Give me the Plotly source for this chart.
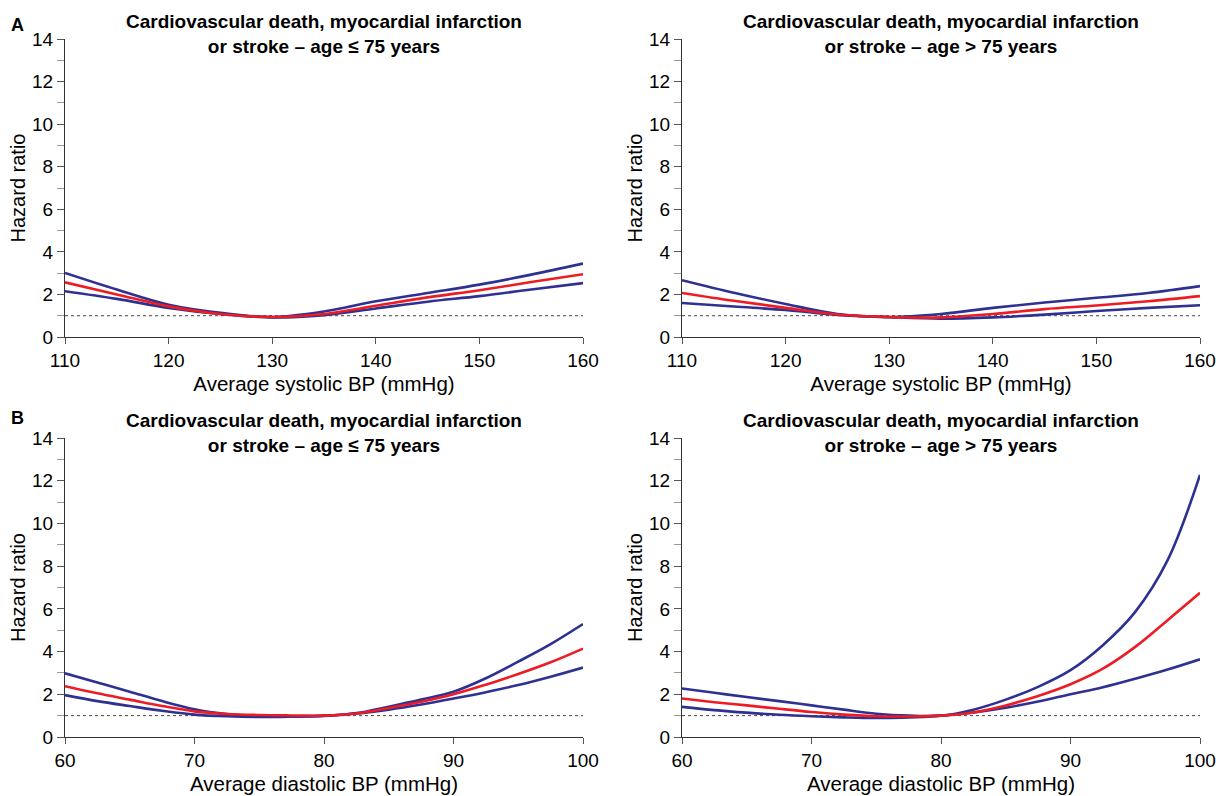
import plotly.graph_objects as go

# ---------------- data ----------------
sys_x = [110, 115, 120, 125, 130, 135, 140, 145, 150, 155, 160]

# Panel A left: systolic, age <= 75
a1_hr    = [2.57, 2.00, 1.44, 1.08, 0.94, 1.08, 1.47, 1.86, 2.20, 2.58, 2.95]
a1_upper = [3.01, 2.23, 1.52, 1.14, 0.94, 1.20, 1.68, 2.07, 2.46, 2.93, 3.45]
a1_lower = [2.15, 1.79, 1.37, 1.08, 0.92, 1.03, 1.34, 1.66, 1.92, 2.23, 2.53]

# Panel A right: systolic, age > 75
a2_hr    = [2.07, 1.70, 1.37, 1.06, 0.94, 0.92, 1.08, 1.31, 1.48, 1.68, 1.92]
a2_upper = [2.67, 2.08, 1.55, 1.08, 0.94, 1.08, 1.37, 1.62, 1.84, 2.07, 2.39]
a2_lower = [1.60, 1.43, 1.27, 1.04, 0.93, 0.86, 0.92, 1.05, 1.22, 1.37, 1.49]

dia_x = [60, 62.5, 65, 67.5, 70, 72.5, 75, 77.5, 80, 82.5, 85, 87.5, 90, 92.5, 95, 97.5, 100]

# Panel B left: diastolic, age <= 75
b1_hr    = [2.38, 2.05, 1.75, 1.45, 1.20, 1.08, 1.03, 1.01, 1.00, 1.10, 1.36, 1.65, 2.00, 2.45, 2.95, 3.50, 4.14]
b1_upper = [2.98, 2.55, 2.12, 1.68, 1.30, 1.07, 0.96, 0.96, 0.98, 1.12, 1.42, 1.75, 2.12, 2.75, 3.53, 4.35, 5.29]
b1_lower = [1.96, 1.68, 1.45, 1.23, 1.05, 0.97, 0.94, 0.96, 1.00, 1.10, 1.28, 1.52, 1.80, 2.10, 2.43, 2.82, 3.25]

# Panel B right: diastolic, age > 75
b2_hr    = [1.80, 1.63, 1.48, 1.32, 1.17, 1.05, 0.97, 0.96, 1.00, 1.15, 1.48, 1.92, 2.47, 3.20, 4.22, 5.47, 6.75]
b2_upper = [2.27, 2.07, 1.87, 1.68, 1.48, 1.28, 1.09, 1.00, 1.00, 1.28, 1.75, 2.35, 3.13, 4.30, 5.86, 8.28, 12.27]
b2_lower = [1.41, 1.26, 1.14, 1.04, 0.97, 0.92, 0.89, 0.91, 1.00, 1.15, 1.37, 1.66, 2.00, 2.33, 2.73, 3.16, 3.64]

y_ticks = [0, 2, 4, 6, 8, 10, 12, 14]
sys_ticks = [110, 120, 130, 140, 150, 160]
dia_ticks = [60, 70, 80, 90, 100]

title_le = "Cardiovascular death, myocardial infarction<br>or stroke \u2013 age \u2264 75 years"
title_gt = "Cardiovascular death, myocardial infarction<br>or stroke \u2013 age > 75 years"

# ---------------- figure ----------------
W, H = 1224, 796
BLUE = "#2e3192"
RED = "#ed1c24"
FONT = "Liberation Sans, Arial, sans-serif"

def px_x(p):
    return p / W

def px_y(p):
    return 1 - p / H

panels = [
    dict(x=sys_x, hr=a1_hr, up=a1_upper, lo=a1_lower, rng=[110, 160], ticks=sys_ticks,
         xt="Average systolic BP (mmHg)", title=title_le, xd=[65, 583], yd=[337, 39]),
    dict(x=sys_x, hr=a2_hr, up=a2_upper, lo=a2_lower, rng=[110, 160], ticks=sys_ticks,
         xt="Average systolic BP (mmHg)", title=title_gt, xd=[682, 1200], yd=[337, 39]),
    dict(x=dia_x, hr=b1_hr, up=b1_upper, lo=b1_lower, rng=[60, 100], ticks=dia_ticks,
         xt="Average diastolic BP (mmHg)", title=title_le, xd=[65, 583], yd=[737, 438]),
    dict(x=dia_x, hr=b2_hr, up=b2_upper, lo=b2_lower, rng=[60, 100], ticks=dia_ticks,
         xt="Average diastolic BP (mmHg)", title=title_gt, xd=[682, 1200], yd=[737, 438]),
]

fig = go.Figure()
layout = dict(
    width=W, height=H, margin=dict(l=0, r=0, t=0, b=0, autoexpand=False),
    paper_bgcolor="white", plot_bgcolor="white", showlegend=False,
    font=dict(family=FONT, color="black", size=19),
)
annotations = []

for i, p in enumerate(panels, start=1):
    xa = "x" if i == 1 else f"x{i}"
    ya = "y" if i == 1 else f"y{i}"
    xkey = "xaxis" if i == 1 else f"xaxis{i}"
    ykey = "yaxis" if i == 1 else f"yaxis{i}"

    # reference line at HR = 1
    fig.add_trace(go.Scatter(x=p["rng"], y=[1, 1], mode="lines", xaxis=xa, yaxis=ya,
                             line=dict(color="#444444", width=1, dash="dot"),
                             hoverinfo="skip"))
    for key, col in (("lo", BLUE), ("up", BLUE), ("hr", RED)):
        fig.add_trace(go.Scatter(x=p["x"], y=p[key], mode="lines", xaxis=xa, yaxis=ya,
                                 line=dict(color=col, width=2.6, shape="spline",
                                           smoothing=1.0)))

    layout[xkey] = dict(
        domain=[px_x(p["xd"][0]), px_x(p["xd"][1])], anchor=ya, range=p["rng"],
        tickvals=p["ticks"], ticks="outside", ticklen=6, tickcolor="#555555",
        showline=True, linecolor="#333333", linewidth=1, showgrid=False, zeroline=False,
        automargin=False,
        tickfont=dict(size=19, color="black"),
        title=dict(text=p["xt"], font=dict(size=20.5, color="black"), standoff=6),
    )
    layout[ykey] = dict(
        domain=[px_y(p["yd"][0]), px_y(p["yd"][1])], anchor=xa, range=[0, 14],
        tickvals=y_ticks, ticks="outside", ticklen=7, tickcolor="#555555",
        minor=dict(dtick=1, tick0=0, ticks="outside", ticklen=7, tickcolor="#999999"),
        showline=True, linecolor="#333333", linewidth=1, showgrid=False, zeroline=False,
        automargin=False,
        tickfont=dict(size=19, color="black"),
        title=dict(text="Hazard ratio", font=dict(size=20, color="black"), standoff=1),
    )
    cx = (p["xd"][0] + p["xd"][1]) / 2
    annotations.append(dict(
        text="<b>" + p["title"] + "</b>", xref="paper", yref="paper",
        x=px_x(cx), y=px_y(p["yd"][1] - 5), xanchor="center", yanchor="middle",
        showarrow=False, font=dict(size=19, color="black", family=FONT),
    ))

annotations.append(dict(text="<b>A</b>", xref="paper", yref="paper", x=px_x(9), y=px_y(25),
                        xanchor="left", yanchor="middle", showarrow=False,
                        font=dict(size=18, color="black")))
annotations.append(dict(text="<b>B</b>", xref="paper", yref="paper", x=px_x(9), y=px_y(418),
                        xanchor="left", yanchor="middle", showarrow=False,
                        font=dict(size=18, color="black")))
layout["annotations"] = annotations
fig.update_layout(**layout)

# remove the default page margin so the figure fills the window exactly
fig.write_html(
    "out.html",
    config={"displayModeBar": False},
    post_script="document.body.style.margin='0';document.body.style.overflow='hidden';",
)
